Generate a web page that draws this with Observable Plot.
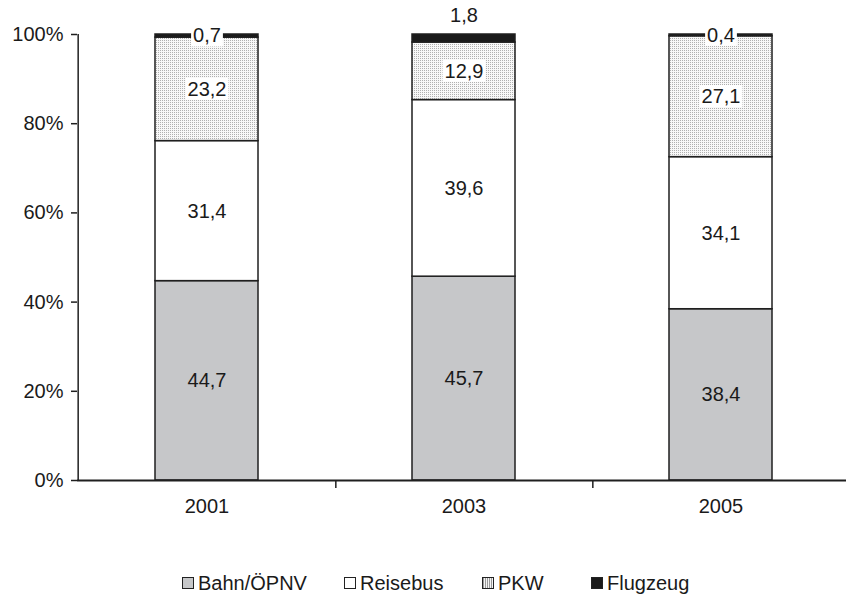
<!DOCTYPE html>
<html><head><meta charset="utf-8">
<script src="https://cdn.jsdelivr.net/npm/d3@7"></script>
<script src="https://cdn.jsdelivr.net/npm/@observablehq/plot@0.6"></script>
<style>
body{margin:0;background:#fff;font-family:"Liberation Sans",Arial,sans-serif;}
#chart{position:relative;width:846px;height:596px;overflow:hidden;}
#chart svg{display:block;}
.legend{position:absolute;top:571px;left:0;width:846px;height:24px;font-size:20px;color:#1a1a1a;}
.item{position:absolute;top:0;display:flex;align-items:center;line-height:24px;white-space:nowrap;}
.sw{width:12px;height:12px;border:1.5px solid #222;margin-right:4px;box-sizing:border-box;}
</style></head><body><div id="chart"></div>
<script>
const years = ["2001", "2003", "2005"];
const modes = ["Bahn/ÖPNV", "Reisebus", "PKW", "Flugzeug"];
const bahn = [44.7, 45.7, 38.4];
const reisebus = [31.4, 39.6, 34.1];
const pkw = [23.2, 12.9, 27.1];
const flugzeug = [0.7, 1.8, 0.4];
const yTicks = [0, 20, 40, 60, 80, 100];

const series = [bahn, reisebus, pkw, flugzeug];
const modeFills = ["#c6c7c9", "#ffffff", "url(#pkwDots)", "#1a1a1a"];
const legendFills = ["#c6c7c9", "#ffffff", "repeating-linear-gradient(90deg,#9a9a9a 0 1px,#f4f4f4 1px 2px)", "#1a1a1a"];
const data = years.flatMap((year, i) => modes.map((mode, j) => ({year, mode, value: series[j][i]})));
const totals = years.map((y, i) => d3.sum(series, s => s[i]));
const fmt = v => v.toFixed(1).replace(".", ",");
const above = d => d.mode === "Flugzeug" && d.year === "2003";

const W = 846, H = 540, mL = 77, mT = 34, mB = 60;
const xRange = [mL, W + 4];
const step = (xRange[1] - xRange[0]) / years.length;
const ink = "#1f1f1f";
const fs = 20;

const plot = Plot.plot({
  width: W, height: H,
  marginLeft: mL, marginRight: 0, marginTop: mT, marginBottom: mB,
  style: {fontFamily: "Liberation Sans, Arial, sans-serif", fontSize: fs + "px", color: "#1a1a1a", background: "white"},
  x: {domain: years, range: xRange, paddingInner: 0.6, paddingOuter: 0.3, label: null},
  y: {domain: [0, 100], label: null},
  color: {domain: modes, range: modeFills},
  marks: [
    Plot.barY(data, {x: "year", y: "value", fill: "mode", stroke: ink, strokeWidth: 1.5}),
    Plot.ruleX([years[0]], {dx: -step / 2, y1: 0, y2: 100, stroke: ink, strokeWidth: 1.5}),
    Plot.ruleY([0], {stroke: ink, strokeWidth: 2}),
    Plot.axisY({ticks: yTicks, tickFormat: d => d + "%", tickSize: 6, tickPadding: 8, fontSize: fs, stroke: ink, strokeWidth: 1.5}),
    Plot.axisX({ticks: years.slice(0, 2), tickSize: 8, tickFormat: () => "", dx: step / 2, stroke: ink, strokeWidth: 1.5}),
    Plot.axisX({ticks: years, tickSize: 0, tickPadding: 18, fontSize: fs}),
    Plot.text(data, Plot.stackY({x: "year", y: "value", z: "mode",
      text: d => d.mode === "Bahn/ÖPNV" ? fmt(d.value) : null,
      fontSize: fs, fill: "#1a1a1a"})),
    Plot.text(data, Plot.stackY({x: "year", y: "value", z: "mode",
      text: d => (d.mode !== "Bahn/ÖPNV" && !above(d)) ? fmt(d.value) : null,
      fontSize: fs, fill: "#1a1a1a", className: "boxed"})),
    Plot.text(data.filter(above), {x: "year", y: d => totals[years.indexOf(d.year)],
      text: d => fmt(d.value), dy: -19, fontSize: fs, fill: "#1a1a1a"})
  ]
});

const chart = document.getElementById("chart");
chart.appendChild(plot);
const ns = "http://www.w3.org/2000/svg";
const defs = document.createElementNS(ns, "defs");
defs.innerHTML = '<pattern id="pkwDots" width="2" height="2" patternUnits="userSpaceOnUse"><rect width="2" height="2" fill="#f8f8f8"/><rect width="1" height="1" fill="#b0b0b0"/></pattern>';
plot.insertBefore(defs, plot.firstChild);

plot.querySelectorAll("g.boxed text").forEach(t => {
  if (!t.textContent) return;
  const b = t.getBBox();
  const r = document.createElementNS(ns, "rect");
  r.setAttribute("x", b.x - 2);
  r.setAttribute("y", b.y);
  r.setAttribute("width", b.width + 4);
  r.setAttribute("height", b.height);
  r.setAttribute("fill", "white");
  if (t.getAttribute("transform")) r.setAttribute("transform", t.getAttribute("transform"));
  t.parentNode.insertBefore(r, t);
});

const legend = document.createElement("div");
legend.className = "legend";
const lefts = [182, 344, 482, 591];
modes.forEach((m, i) => {
  const it = document.createElement("div");
  it.className = "item";
  it.style.left = lefts[i] + "px";
  const sw = document.createElement("span");
  sw.className = "sw";
  sw.style.background = legendFills[i];
  const tx = document.createElement("span");
  tx.textContent = m;
  it.appendChild(sw); it.appendChild(tx);
  legend.appendChild(it);
});
chart.appendChild(legend);
</script></body></html>
